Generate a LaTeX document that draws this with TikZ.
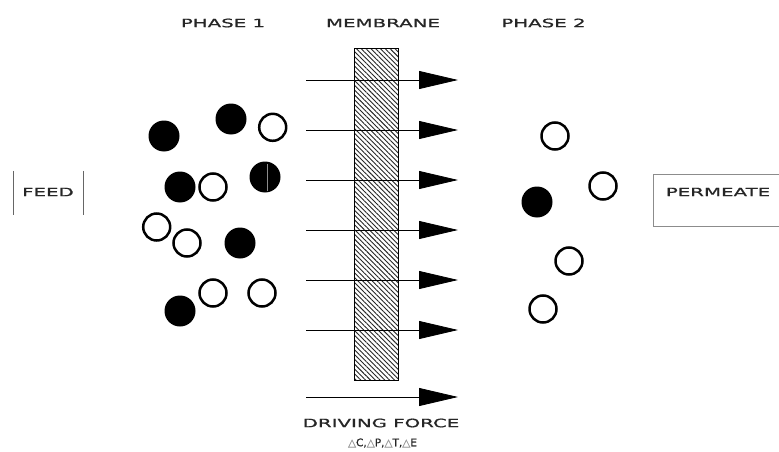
\documentclass[tikz,border=0pt]{standalone}
\usepackage{fontspec}
\newfontfamily\widefont[FakeStretch=1.72,FakeBold=0.9]{DejaVu Sans}
\newfontfamily\symfont[FakeBold=0.6]{DejaVu Sans}
\usetikzlibrary{arrows.meta,patterns.meta}
\begin{document}
\begin{tikzpicture}[x=1pt,y=-1pt,
  lbl/.style={font=\widefont\fontsize{11.5}{12}\selectfont, inner sep=0pt, text=black!85},
  full/.style={circle, fill=black, minimum size=31pt, inner sep=0pt},
  hollow/.style={circle, draw=black, line width=2.5pt, minimum size=27pt, inner sep=0pt},
  flow/.style={line width=0.8pt, -{Triangle[length=39pt,width=18pt]}},
  membranebox/.style={draw=black, line width=0.8pt, minimum width=44pt, minimum height=332pt, inner sep=0pt,
     pattern={Lines[angle=-45,distance=3.4pt,line width=0.9pt]}, pattern color=black!85},
  edge/.style={draw=black!60, line width=0.9pt}
]
\clip (0,0) rectangle (779,452);
\fill[white] (0,0) rectangle (779,452);

% titles
\node[lbl] (phase1) at (223,23) {PHASE 1};
\node[lbl] (memtitle) at (383,23) {MEMBRANE};
\node[lbl] (phase2) at (543.5,23) {PHASE 2};

% membrane
\node[membranebox] (membrane) at (376,214.5) {};

% driving force arrows
\foreach \i/\yy in {1/80,2/130,3/180,4/230,5/280,6/330,7/397}{
  \coordinate (s\i) at (306,\yy);
  \coordinate (e\i) at (458,\yy);
  \draw[flow] (s\i) -- (e\i);
}

% feed
\node[minimum width=69pt, minimum height=44pt, inner sep=0pt] (feedbox) at (48.5,193) {};
\draw[edge] (feedbox.north west) -- (feedbox.south west);
\draw[edge] (feedbox.north east) -- (feedbox.south east);
\node[lbl] (feed) at (48,192) {FEED};

% permeate
\node[draw=black!45, line width=0.9pt, minimum width=134pt, minimum height=52pt, inner sep=0pt] (permbox) at (720,200) {};
\node[lbl] (permeate) at (718,192) {PERMEATE};

% phase 1 particles
\node[full] (a1) at (164,136) {};
\node[full] (a2) at (231,119) {};
\node[hollow] (a3) at (272.7,127.3) {};
\node[full] (a4) at (180,187) {};
\node[hollow] (a5) at (213,187) {};
\node[full] (a6) at (265,177) {};
\draw[black!45, line width=0.4pt] (267.3,164) -- (267.3,191);
\node[hollow] (a7) at (156.7,227) {};
\node[hollow] (a8) at (187,243) {};
\node[full] (a9) at (240,243) {};
\node[hollow] (a10) at (213,293) {};
\node[hollow] (a11) at (262,293) {};
\node[full] (a12) at (180,311) {};

% phase 2 particles
\node[hollow] (b1) at (555,136) {};
\node[hollow] (b2) at (603,186) {};
\node[full] (b3) at (537,202) {};
\node[hollow] (b4) at (569,261) {};
\node[hollow] (b5) at (543,309) {};

% bottom labels
\node[lbl] (drive) at (381,423) {DRIVING FORCE};
\node[inner sep=0pt, font=\symfont\fontsize{10.5}{11}\selectfont, text=black!85] (deltas) at (382.5,443)
  {{\color{black!40}△}C,{\color{black!40}△}P,{\color{black!40}△}T,{\color{black!40}△}E};
\end{tikzpicture}
\end{document}
